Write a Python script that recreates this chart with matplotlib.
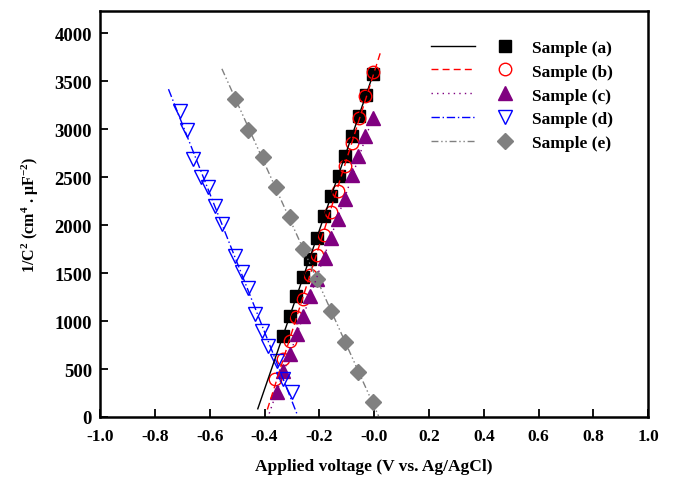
import numpy as np
import matplotlib
matplotlib.use('Agg')
import matplotlib.pyplot as plt
from matplotlib.lines import Line2D
from matplotlib.legend_handler import HandlerTuple

# 字体
plt.rcParams['font.family'] = ['Liberation Serif', 'DejaVu Serif']
plt.rcParams['font.weight'] = 'bold'
plt.rcParams['mathtext.fontset'] = 'custom'
plt.rcParams['mathtext.rm'] = 'Liberation Serif:bold'
plt.rcParams['mathtext.it'] = 'Liberation Serif:bold'
plt.rcParams['mathtext.bf'] = 'Liberation Serif:bold'

# 数据
labels = ['Sample (a)', 'Sample (b)', 'Sample (c)', 'Sample (d)', 'Sample (e)']

v_a = [-0.006, -0.030, -0.056, -0.080, -0.105, -0.130, -0.156, -0.185, -0.209, -0.236, -0.260, -0.285, -0.309, -0.333]
c_a = [3573, 3354, 3139, 2930, 2722, 2514, 2299, 2094, 1861, 1646, 1455, 1257, 1049, 841]

v_b = [-0.006, -0.032, -0.056, -0.080, -0.105, -0.131, -0.158, -0.185, -0.210, -0.236, -0.260, -0.285, -0.309, -0.333, -0.361]
c_b = [3597, 3341, 3111, 2854, 2611, 2357, 2135, 1896, 1688, 1479, 1229, 1039, 795, 604, 396]

v_c = [-0.005, -0.034, -0.058, -0.081, -0.106, -0.132, -0.157, -0.180, -0.210, -0.235, -0.259, -0.283, -0.308, -0.332, -0.356]
c_c = [3115, 2924, 2722, 2521, 2271, 2063, 1861, 1653, 1438, 1257, 1055, 865, 656, 479, 258]

v_d = [-0.709, -0.685, -0.661, -0.634, -0.606, -0.581, -0.557, -0.508, -0.484, -0.460, -0.435, -0.411, -0.387, -0.356, -0.332, -0.301]
c_d = [3191, 2993, 2688, 2497, 2393, 2201, 2010, 1680, 1507, 1341, 1073, 899, 743, 586, 396, 257]

v_e = [-0.508, -0.460, -0.407, -0.359, -0.308, -0.261, -0.208, -0.159, -0.107, -0.058, -0.006]
c_e = [3312, 2993, 2711, 2399, 2080, 1750, 1437, 1107, 778, 472, 153]

# voltage range of each linear fit line
fit_range = [(-0.425, 0.0), (-0.39, 0.026), (-0.39, 0.005), (-0.751, -0.282), (-0.556, 0.016)]

xticks = np.arange(-1.0, 1.01, 0.2)
yticks = np.arange(0, 4001, 500)

series = [(v_a, c_a), (v_b, c_b), (v_c, c_c), (v_d, c_d), (v_e, c_e)]
colors = ['black', 'red', '#800080', 'blue', '#808080']
markers = ['s', 'o', '^', 'v', 'D']
msizes = [9, 9, 10, 10, 8.5]
filled = [True, False, True, False, True]
linestyles = ['-', (0, (5, 3)), (0, (1, 3)), (0, (6, 2, 1, 2)), (0, (5, 2, 1, 2, 1, 2))]

fig, ax = plt.subplots(figsize=(6.73, 4.81), dpi=100)
fig.subplots_adjust(left=0.149, right=0.963, top=0.975, bottom=0.131)

handles = []
for (v, c), col, m, ms, f, ls, rng in zip(series, colors, markers, msizes, filled, linestyles, fit_range):
    fc = col if f else 'none'
    ax.plot(v, c, linestyle='none', marker=m, ms=ms, mfc=fc, mec=col, mew=1, zorder=2)
    k, b = np.polyfit(v, c, 1)
    xl = np.array(rng)
    ax.plot(xl, k * xl + b, color=col, lw=1, linestyle=ls, zorder=3)
    h_line = Line2D([], [], color=col, lw=1, linestyle=ls)
    h_mark = Line2D([], [], linestyle='none', marker=m, ms=ms, mfc=fc, mec=col, mew=1)
    handles.append((h_line, h_mark))

ax.legend(handles, labels, handler_map={tuple: HandlerTuple(ndivide=None, pad=0.44)},
          handlelength=5.5, handletextpad=0.3, labelspacing=0.45, frameon=False,
          loc='upper left', bbox_to_anchor=(0.604, 0.93), borderaxespad=0, borderpad=0,
          prop={'size': 12.5, 'weight': 'bold'})

ax.set_xlim(-1.0, 1.0)
ax.set_ylim(0, 4230)
ax.set_xticks(xticks)
ax.set_xticklabels([f'{t:.1f}' for t in xticks])
ax.set_yticks(yticks)
ax.tick_params(direction='in', length=6, width=1.3, pad=6)
ax.tick_params(axis='x', labelsize=12.5, pad=8)
ax.tick_params(axis='y', labelsize=13.5)
for s in ax.spines.values():
    s.set_linewidth(1.8)

ax.set_xlabel('Applied voltage (V vs. Ag/AgCl)', fontsize=12.5, fontweight='bold', labelpad=10)
ax.set_ylabel(r'1/C$^{2}$ (cm$^{4}$ . μF$^{-2}$)', fontsize=11.5, fontweight='bold', labelpad=10)

plt.savefig('out.png', dpi=100)
